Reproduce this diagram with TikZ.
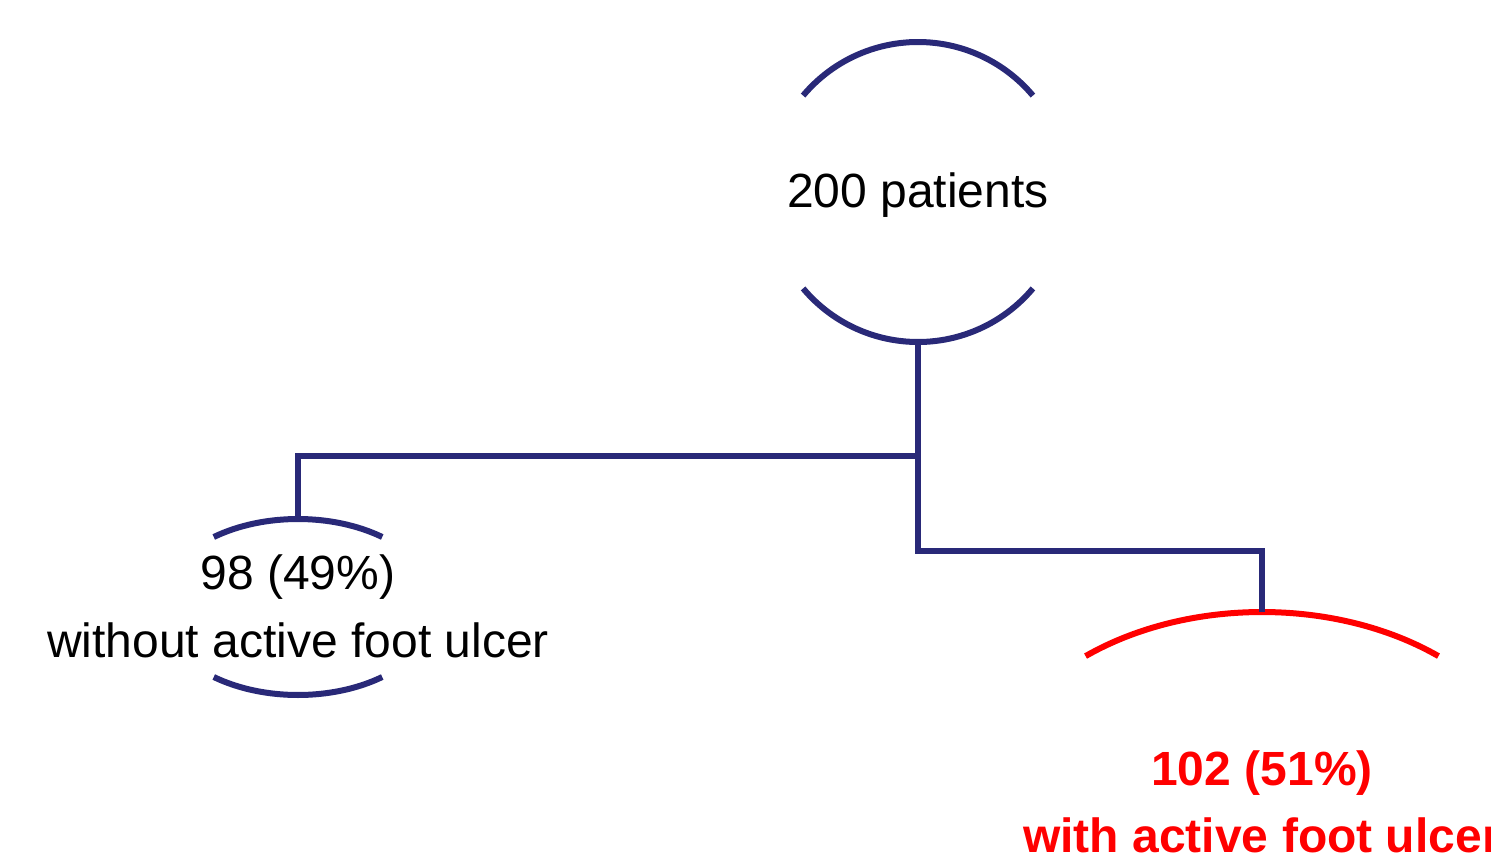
\documentclass[tikz,border=0pt]{standalone}
\usepackage{fontspec}
\setmainfont{Liberation Sans}
\usetikzlibrary{shapes.geometric}
\definecolor{navyc}{RGB}{41,41,120}
\definecolor{redc}{RGB}{255,0,0}
\tikzset{
  shapebox/.style={draw=none, inner sep=0pt, align=center,
    font=\fontsize{48}{68}\selectfont},
  arcline/.style={line width=6pt},
  conn/.style={draw=navyc, line width=6pt}
}
\begin{document}
\begin{tikzpicture}[x=1pt,y=-1pt]
\useasboundingbox (0,0) rectangle (1491,862);
\clip (0,0) rectangle (1491,862);
\fill[white] (0,0) rectangle (1491,862);
% nodes
\node[shapebox, circle, minimum size=300pt, text height=34pt, text depth=4pt] (top) at (918,192) {200 patients};
\node[shapebox, ellipse, minimum width=278pt, minimum height=176pt, text height=100pt, text depth=0pt] (L) at (298,607) {98 (49\%)\\without active foot ulcer};
\node[shapebox, ellipse, minimum width=556pt, minimum height=388pt, text height=92pt, text depth=0pt, text=redc, font=\fontsize{48}{67}\selectfont\bfseries] (R) at (1262,806) {102 (51\%)\\with active foot ulcer};
% partial outlines
\draw[arcline, navyc] ([shift={(-140:150)}]top.center) arc[start angle=-140, end angle=-40, radius=150];
\draw[arcline, navyc] ([shift={(40:150)}]top.center) arc[start angle=40, end angle=140, radius=150];
\draw[arcline, navyc] ([shift={(-127.3:139 and 88)}]L.center) arc[start angle=-127.3, end angle=-52.7, x radius=139, y radius=88];
\draw[arcline, navyc] ([shift={(52.7:139 and 88)}]L.center) arc[start angle=52.7, end angle=127.3, x radius=139, y radius=88];
\draw[arcline, redc] ([shift={(-129.4:278 and 194)}]R.center) arc[start angle=-129.4, end angle=-50.6, x radius=278, y radius=194];
% connectors
\coordinate (j1) at (918,456);
\coordinate (j2) at (918,551);
\draw[conn] (top.south) -- (j2) -| (R.north);
\draw[conn] (j1) -| (L.north);
\end{tikzpicture}
\end{document}
